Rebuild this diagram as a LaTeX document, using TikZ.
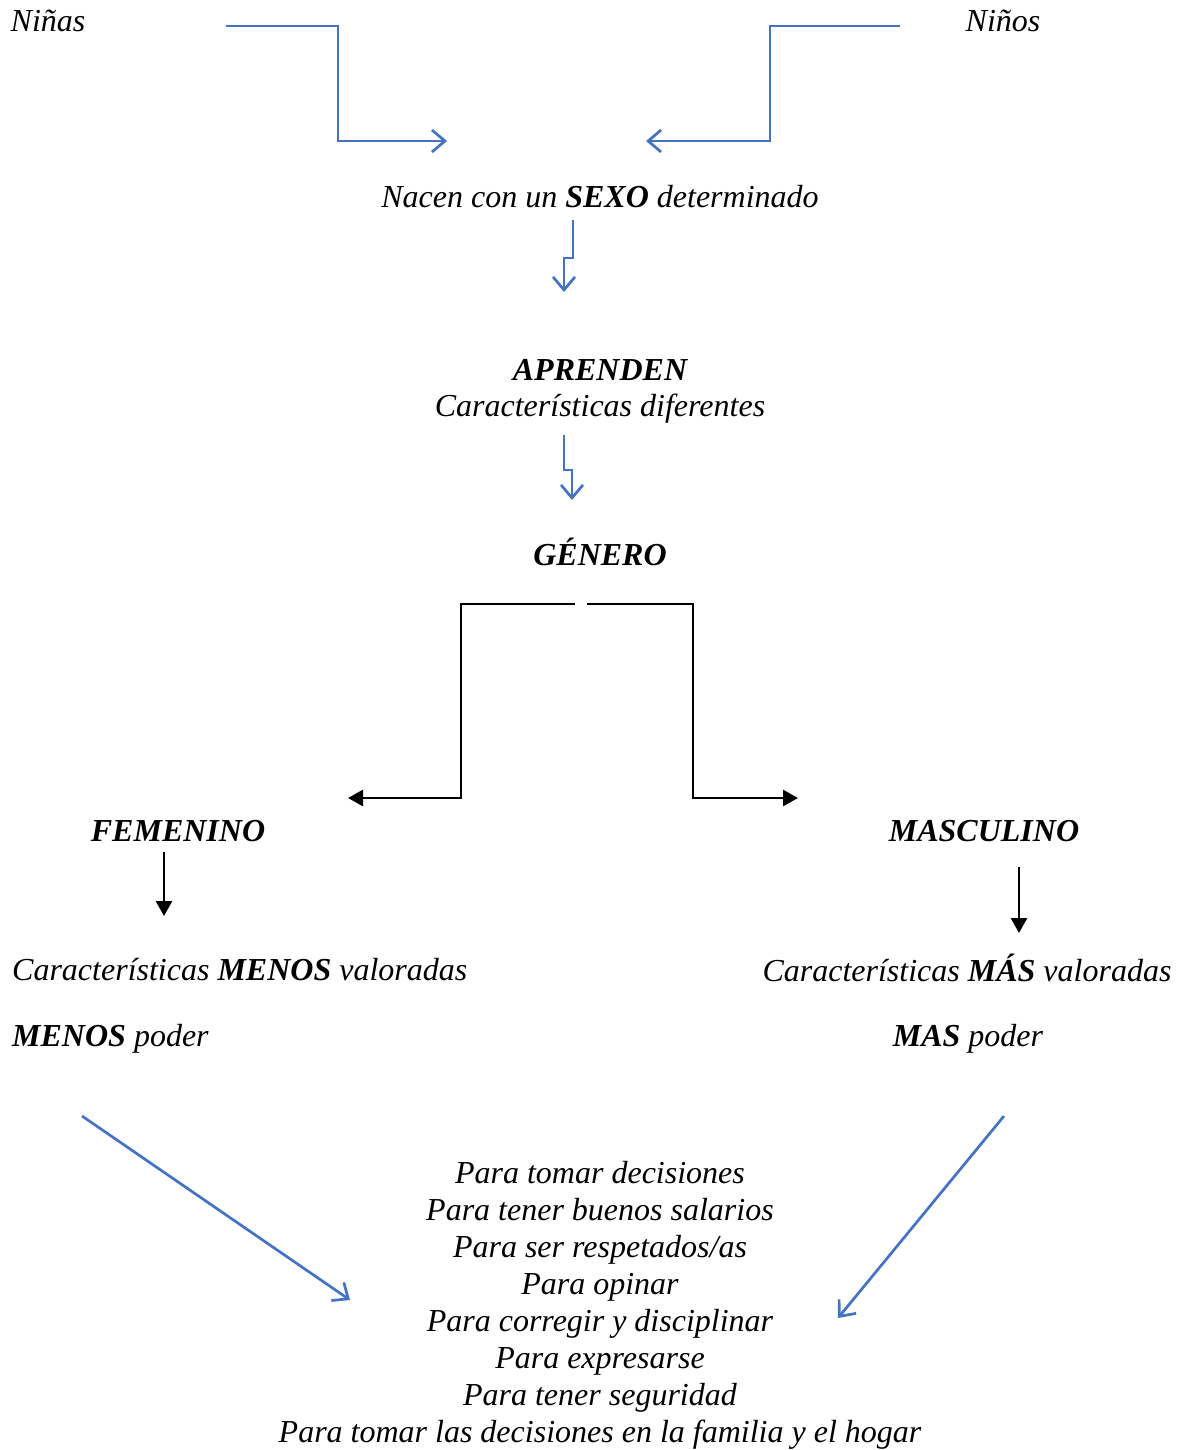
\documentclass[tikz,border=0pt]{standalone}
\usepackage{fontspec}
\setmainfont{Liberation Serif}
\usetikzlibrary{arrows.meta}
\definecolor{flecha}{RGB}{68,114,196}
\begin{document}
\begin{tikzpicture}[x=1pt, y=-1pt, line join=miter,
		every node/.style={font=\fontsize{32}{37}\selectfont\itshape, inner sep=0pt},
		azul/.style={draw=flecha, line width=2.7pt, -{Straight Barb[length=13pt,width=22pt,line width=2.7pt]}},
		negro/.style={draw=black, line width=2.8pt, -{Triangle[length=15pt,width=16pt]}}]
	\useasboundingbox (0,0) rectangle (1178,1450);
	% textos
	\node (ninas) at (48,21) {Niñas};
	\node (ninos) at (1003,21) {Niños};
	\node (sexo) at (600,197) {Nacen con un \textbf{SEXO} determinado};
	\node (aprenden) at (600,370) {\textbf{APRENDEN}};
	\node (caract) at (600,409) {Características diferentes};
	\node (genero) at (600,552) {\textbf{GÉNERO}};
	\node (fem) at (178,831) {\textbf{FEMENINO}};
	\node (masc) at (984,831) {\textbf{MASCULINO}};
	\node[anchor=west] (menosval) at (12,970) {Características \textbf{MENOS} valoradas};
	\node (masval) at (967,968) {Características \textbf{MÁS} valoradas};
	\node[anchor=west] (menospoder) at (12,1039) {\textbf{MENOS} poder};
	\node (maspoder) at (968,1039) {\textbf{MAS} poder};
	\node[align=center] (para) at (600,1305) {Para tomar decisiones\\
		Para tener buenos salarios\\
		Para ser respetados/as\\
		Para opinar\\
		Para corregir y disciplinar\\
		Para expresarse\\
		Para tener seguridad\\
		Para tomar las decisiones en la familia y el hogar};
	% extremos
	\coordinate (a1) at (226,26);  \coordinate (a2) at (447,141);
	\coordinate (b1) at (900,26);  \coordinate (b2) at (646,141);
	\coordinate (c1) at (573,220); \coordinate (c2) at (564,292);
	\coordinate (d1) at (564,435); \coordinate (d2) at (572,500);
	\coordinate (e1) at (575,604); \coordinate (e2) at (348,798);
	\coordinate (f1) at (587,604); \coordinate (f2) at (798,798);
	\coordinate (g1) at (164,852); \coordinate (g2) at (164,916);
	\coordinate (h1) at (1019,867); \coordinate (h2) at (1019,933);
	\coordinate (i1) at (82,1116);  \coordinate (i2) at (350,1300);
	\coordinate (j1) at (1004,1116); \coordinate (j2) at (838,1318);
	% flechas azules
	\draw[azul] (a1) -| (338,141) -- (a2);
	\draw[azul] (b1) -| (770,141) -- (b2);
	\draw[azul] (c1) -- (573,258) -| (c2);
	\draw[azul] (d1) -- (564,470) -| (d2);
	\draw[azul] (i1) -- (i2);
	\draw[azul] (j1) -- (j2);
	% flechas negras
	\draw[negro] (e1) -| (461,798) -- (e2);
	\draw[negro] (f1) -| (693,798) -- (f2);
	\draw[negro] (g1) -- (g2);
	\draw[negro] (h1) -- (h2);
\end{tikzpicture}
\end{document}
